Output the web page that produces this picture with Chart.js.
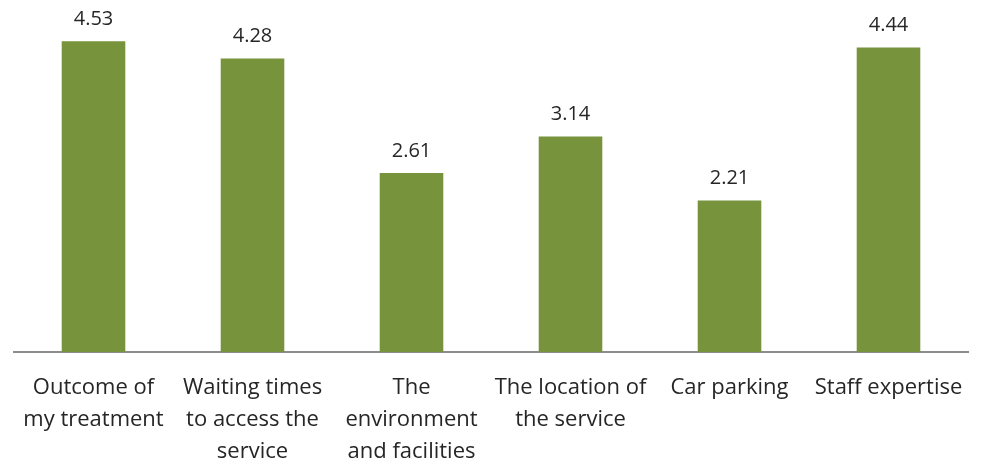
<!DOCTYPE html>
<html><head><meta charset="utf-8">
<script src="https://cdn.jsdelivr.net/npm/chart.js@4"></script>
<style>html,body{margin:0;padding:0;background:#fff}#w{width:984px;height:464px}</style>
</head><body><div id="w"><canvas id="c"></canvas></div>
<script>
const categories = [
  ["Outcome of", "my treatment"],
  ["Waiting times", "to access the", "service"],
  ["The", "environment", "and facilities"],
  ["The location of", "the service"],
  ["Car parking"],
  ["Staff expertise"]
];
const values = [4.53, 4.28, 2.61, 3.14, 2.21, 4.44];

const valueLabels = {
  id: 'valueLabels',
  afterDatasetsDraw(chart) {
    const ctx = chart.ctx;
    const meta = chart.getDatasetMeta(0);
    ctx.save();
    ctx.font = '20px "Open Sans", sans-serif';
    ctx.fillStyle = '#262626';
    ctx.textAlign = 'center';
    ctx.textBaseline = 'middle';
    meta.data.forEach((bar, i) => {
      ctx.fillText(values[i].toFixed(2), bar.x, bar.y - 22);
    });
    ctx.restore();
  }
};

new Chart(document.getElementById('c'), {
  type: 'bar',
  data: { labels: categories, datasets: [{ data: values, backgroundColor: '#77933C', barPercentage: 0.4, categoryPercentage: 1.0 }] },
  options: {
    responsive: true, maintainAspectRatio: false, animation: false,
    layout: { padding: { left: 14, right: 16, top: 9, bottom: 0 } },
    plugins: { legend: { display: false }, tooltip: { enabled: false } },
    scales: {
      y: { display: false, min: 0, max: 5 },
      x: {
        grid: { display: false, drawTicks: false },
        border: { display: true, color: '#8c8c8c', width: 2 },
        ticks: { color: '#262626', font: { family: '"Open Sans", sans-serif', size: 22, lineHeight: 1.45 }, padding: 20, maxRotation: 0, autoSkip: false },
        afterFit(s) { s.height = 112; }
      }
    }
  },
  plugins: [valueLabels]
});
</script></body></html>
